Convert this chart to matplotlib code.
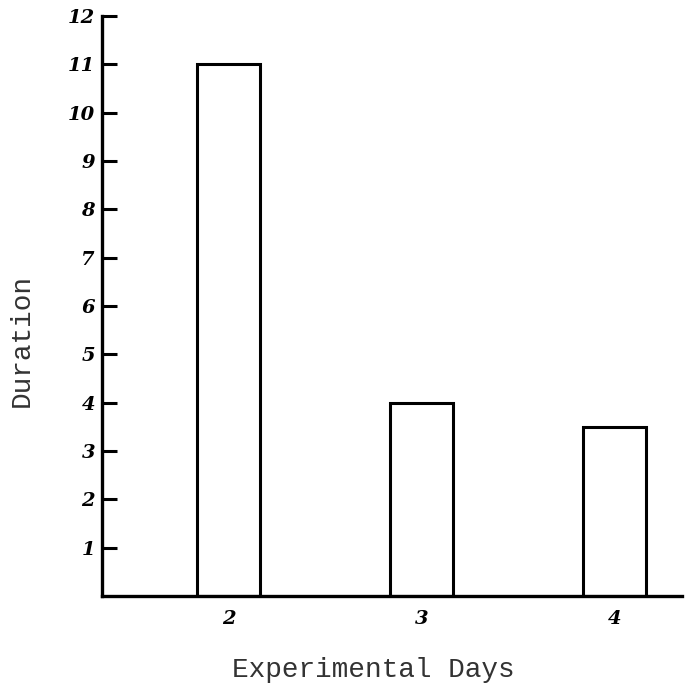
import matplotlib.pyplot as plt
import numpy as np

# data
days = ['2', '3', '4']
duration = [11, 4, 3.5]
y_ticks = list(range(1, 13))
y_labels = [str(v) for v in y_ticks]

hand_font = {'family': 'DejaVu Serif', 'style': 'italic', 'weight': 'bold', 'size': 14}
type_font = {'family': 'Liberation Mono', 'size': 20}

F1, AX1 = plt.subplots(figsize=(6.92, 6.90), dpi=100)
F1.subplots_adjust(left=0.1474, right=0.9855, bottom=0.1362, top=0.9768)

xpos = np.arange(len(days))
AX1.bar(xpos, duration, width=0.33, facecolor='white', edgecolor='black', linewidth=2.2)

AX1.set_xlim(-0.656, 2.349)
AX1.set_ylim(0, 12)
for side in ['top', 'right']:
    AX1.spines[side].set_visible(False)
for side in ['left', 'bottom']:
    AX1.spines[side].set_linewidth(2.4)

AX1.set_yticks(y_ticks)
AX1.set_yticklabels(y_labels, fontdict=hand_font)
AX1.tick_params(axis='y', direction='in', length=11, width=2.2, pad=5)
AX1.set_xticks(xpos)
AX1.set_xticklabels(days, fontdict=hand_font)
AX1.tick_params(axis='x', length=0, pad=10)

AX1.set_xlabel('Experimental Days', fontdict=type_font, color='#333333')
AX1.xaxis.set_label_coords(0.467, -0.105)
AX1.set_ylabel('Duration', fontdict=type_font, color='#333333')
AX1.yaxis.set_label_coords(-0.1155, 0.441)

plt.savefig('out.png')
